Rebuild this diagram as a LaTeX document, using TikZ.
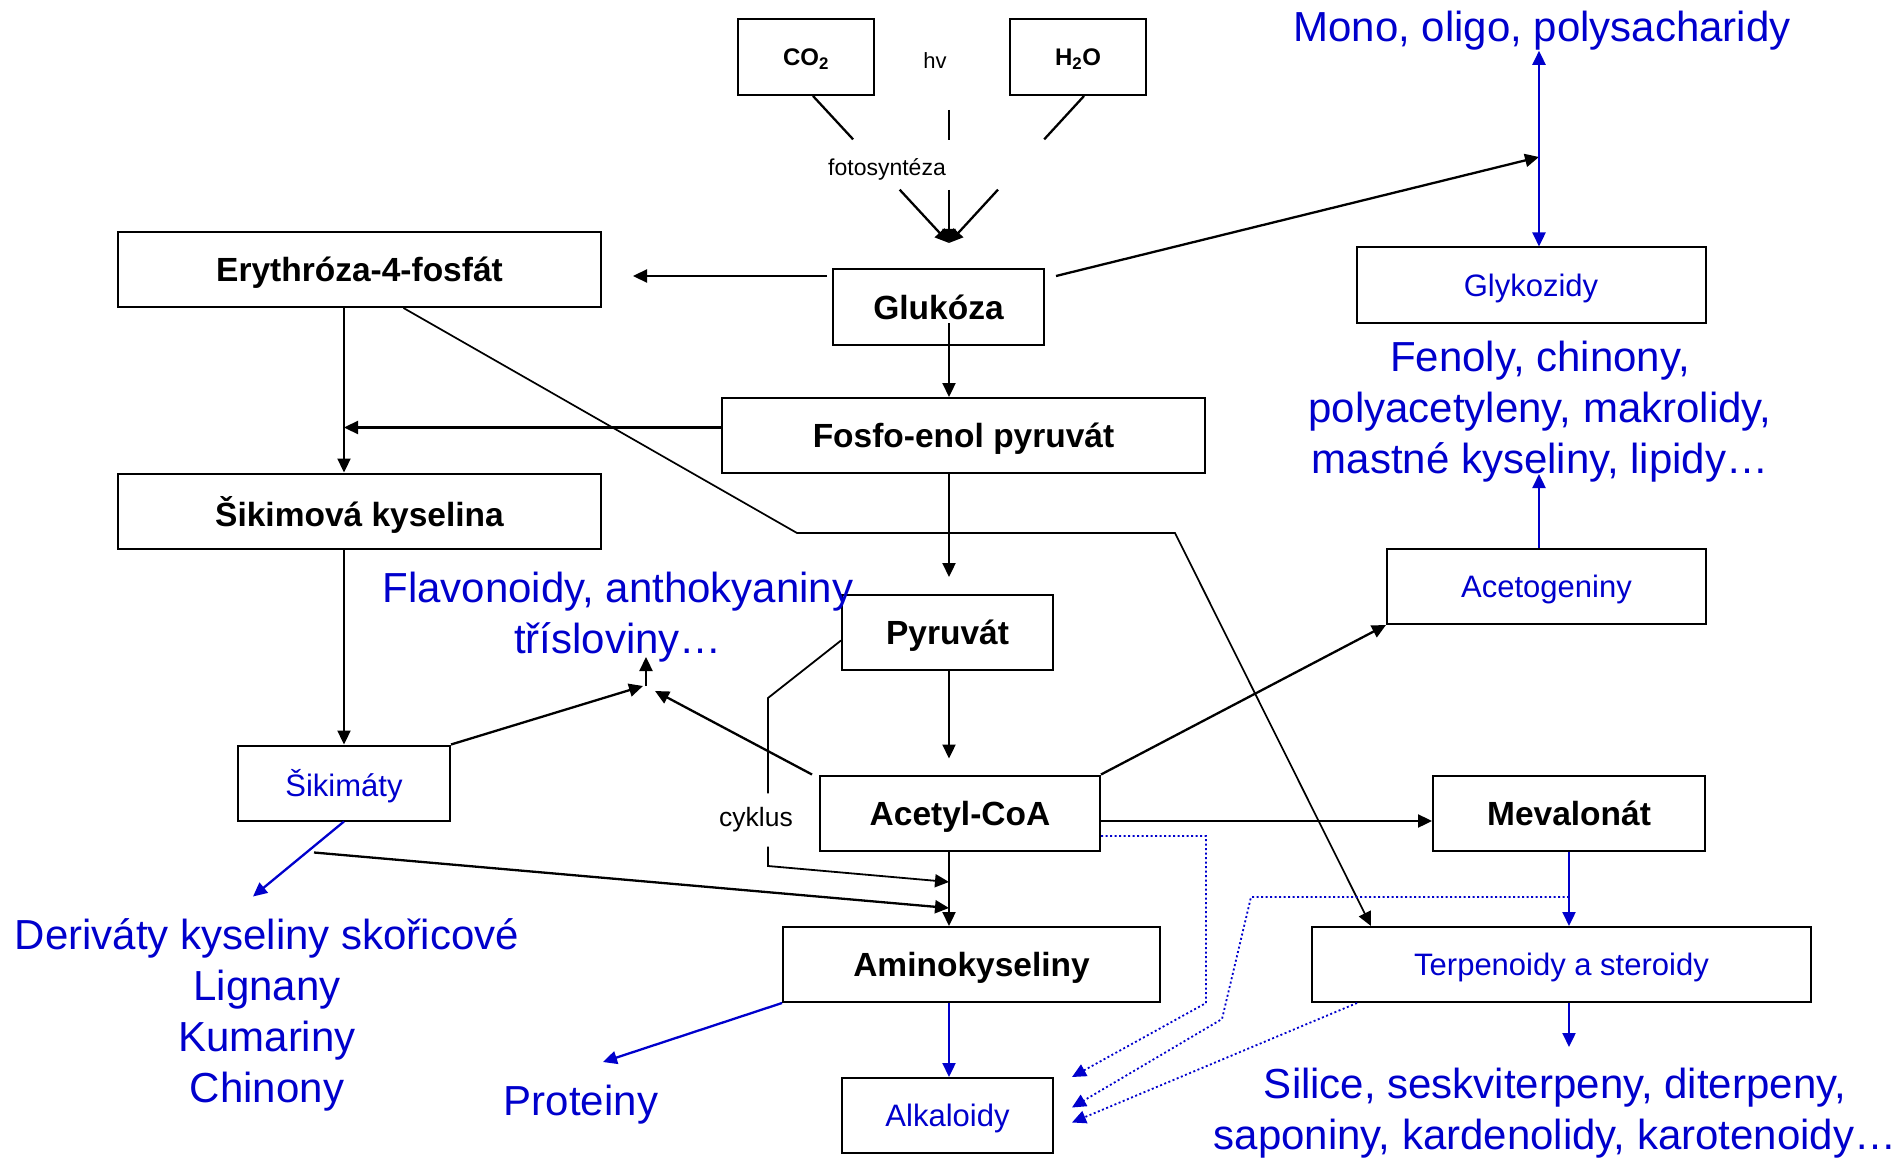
\documentclass[tikz,border=0pt]{standalone}
\usepackage{fontspec}
\setmainfont{Liberation Sans}
\usetikzlibrary{arrows.meta,calc}
\definecolor{modra}{RGB}{0,0,204}

\begin{document}
\begin{tikzpicture}
  [x=1pt,y=-1pt,>={Triangle[length=14pt,width=13pt]},
   box/.style={draw, line width=2pt, inner sep=0pt, minimum height=75pt, text depth=0pt},
   hlavni/.style={box, font=\fontsize{33.5}{40}\selectfont\bfseries},
   vedlejsi/.style={box, text=modra, font=\fontsize{31}{37}\selectfont},
   popis/.style={text=modra, align=center, inner sep=0pt, font=\fontsize{42}{51}\selectfont},
   mala/.style={inner sep=0pt, font=\fontsize{23}{28}\selectfont},
   sip/.style={->, line width=2.3pt},
   msip/.style={->, line width=2.3pt, color=modra},
   tecky/.style={->, line width=1.8pt, color=modra, dash pattern=on 2pt off 2.5pt}]
  \useasboundingbox (0,0) rectangle (1903,1158);

  \node[box, minimum width=136pt, minimum height=76pt, font=\fontsize{24}{28}\selectfont\bfseries] (co2) at (806,57) {CO\textsubscript{2}};
  \node[box, minimum width=136pt, minimum height=76pt, font=\fontsize{24}{28}\selectfont\bfseries] (h2o) at (1078,57) {H\textsubscript{2}O};
  \node[mala, font=\fontsize{22}{26}\selectfont] (hv) at (935,61) {hv};
  \node[mala] (foto) at (887,169) {fotosyntéza};

  \node[hlavni, minimum width=483pt] (eryt) at (359.5,269.5) {Erythróza-4-fosfát};
  \node[hlavni, minimum width=211pt, minimum height=76pt] (gluk) at (938.5,307) {Glukóza};
  \node[vedlejsi, minimum width=349pt] (gly) at (1531,285) {Glykozidy};
  \node[hlavni, minimum width=483pt] (fosf) at (963.5,435.5) {Fosfo-enol pyruvát};
  \node[hlavni, minimum width=483pt] (sikk) at (359.5,511) {Šikimová kyselina};
  \node[vedlejsi, minimum width=319pt] (aceg) at (1546.5,586.5) {Acetogeniny};
  \node[hlavni, minimum width=211pt] (pyr) at (947.5,632.5) {Pyruvát};
  \node[vedlejsi, minimum width=212pt] (sikm) at (344,783) {Šikimáty};
  \node[hlavni, minimum width=280pt] (acet) at (960,813) {Acetyl-CoA};
  \node[hlavni, minimum width=272pt] (meva) at (1569,813) {Mevalonát};
  \node[hlavni, minimum width=377pt] (amino) at (971.5,964.5) {Aminokyseliny};
  \node[vedlejsi, minimum width=499pt] (terp) at (1561.5,964.5) {Terpenoidy a steroidy};
  \node[vedlejsi, minimum width=211pt] (alk) at (947.5,1115.5) {Alkaloidy};

  \node[popis] (mono) at (1542,31) {Mono, oligo, polysacharidy};
  \node[popis] (fen) at (1540,412) {Fenoly, chinony,\\polyacetyleny, makrolidy,\\mastné kyseliny, lipidy…};
  \node[popis] (flav) at (618,617) {Flavonoidy, anthokyaniny\\třísloviny…};
  \node[popis] (der) at (267,1015) {Deriváty kyseliny skořicové\\Lignany\\Kumariny\\Chinony};
  \node[popis] (prot) at (581,1105) {Proteiny};
  \node[popis] (sil) at (1555,1113) {Silice, seskviterpeny, diterpeny,\\saponiny, kardenolidy, karotenoidy…};
  \node[mala, font=\fontsize{26.5}{30}\selectfont, inner ysep=14pt] (cyk) at (756,820) {cyklus};

  \coordinate (fs) at (949,243);
  \coordinate (c1) at ($(co2.south)+(7,0)$);
  \coordinate (h1) at ($(h2o.south)+(6,0)$);
  \coordinate (v1) at (949,110);
  \foreach \z/\a/\b in {c1/0.295/0.637, h1/0.295/0.637, v1/0.226/0.6} {
    \draw[line width=2.3pt] (\z) -- ($(\z)!\a!(fs)$);
    \draw[sip] ($(\z)!\b!(fs)$) -- (fs);
  }

  \coordinate (cukr) at (1539,157);
  \coordinate (osa) at (949,0);
  \draw[sip] ($(gluk.north west)+(-5,8)$) -- ($(eryt.north east)+(31,45)$);
  \draw[sip] ($(gluk.north east)+(11,8)$) -- (cukr);
  \draw[msip,<->] (cukr |- mono.south) -- (cukr |- gly.north);
  \draw[sip] ($(osa |- gluk.center)+(0,16)$) -- (osa |- fosf.north);
  \coordinate (fp) at ($(fosf.west)+(0,-8)$);
  \draw[sip] (fp) -- (fp -| sikm.north);
  \draw[sip] (sikm.north |- eryt.south) -- (sikm.north |- sikk.north);
  \draw[sip] (sikm.north |- sikk.south) -- (sikm.north);
  \draw[sip] (osa |- fosf.south) -- ($(osa |- pyr.north)+(0,-17)$);
  \draw[sip] (osa |- pyr.south) -- ($(osa |- acet.north)+(0,-16)$);
  \draw[sip] (osa |- acet.south) -- (osa |- amino.north);
  \draw[msip] (osa |- amino.south) -- (osa |- alk.north);

  \coordinate (cy1) at (768,698);
  \coordinate (cy2) at (768,866);
  \coordinate (cyk1) at (949,882);
  \draw[line width=1.8pt] ($(pyr.west)+(0,8)$) -- (cy1) -- (cy1 |- cyk.north);
  \draw[sip, line width=1.8pt] (cy1 |- cyk.south) -- (cy2) -- (cyk1);

  \coordinate (am1) at (949,908);
  \draw[sip] ($(sikm.south)+(-30,31)$) -- (am1);

  \coordinate (fj) at (646,686);
  \draw[sip] (sikm.north east) -- ($(fj)+(-3,0)$);
  \draw[sip] ($(acet.north west)+(-7,0)$) -- ($(fj)+(9,5)$);
  \draw[sip] (fj) -- ($(fj)+(0,-29)$);

  \draw[sip] (acet.north east) -- (aceg.south west);
  \draw[msip] (cukr |- aceg.north) -- ($(cukr |- aceg.north)+(0,-74)$);
  \draw[sip] ($(acet.east)+(0,8)$) -- ($(meva.west)+(0,8)$);
  \draw[msip] (meva.south) -- (meva.south |- terp.north);
  \draw[msip] (meva.south |- terp.south) -- ($(meva.south |- terp.south)+(0,44)$);

  \coordinate (e1) at (797,533);
  \coordinate (e2) at (1175,533);
  \draw[sip, line width=1.7pt] ($(eryt.south)+(44,0)$) -- (e1) -- (e2) -- ($(terp.north west)+(60,0)$);

  \draw[msip] (sikm.south) -- ($(sikm.south)+(-91,75)$);
  \draw[msip] (amino.south west) -- ($(amino.south west)+(-179,59)$);

  \coordinate (t1) at (1206,1003);
  \coordinate (t2) at (1251,897);
  \coordinate (t3) at (1222,1019);
  \draw[tecky] ($(acet.east)+(0,23)$) -| (t1) -- ($(alk.north east)+(18,0)$);
  \draw[tecky] (t2 -| meva.south) -- (t2) -- (t3) -- ($(alk.east)+(18,-8)$);
  \draw[tecky] ($(terp.south west)+(46,0)$) -- ($(alk.east)+(18,7)$);
\end{tikzpicture}
\end{document}
